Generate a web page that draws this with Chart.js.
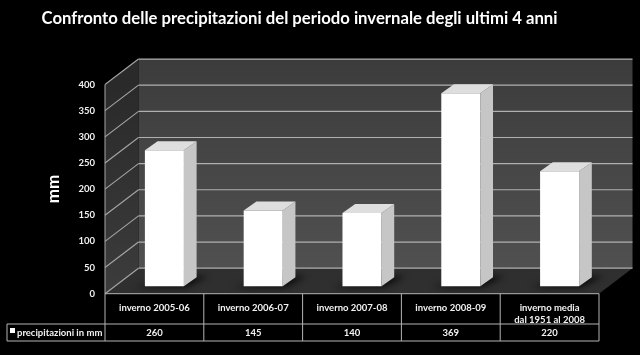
<!DOCTYPE html>
<html><head><meta charset="utf-8">
<style>html,body{margin:0;padding:0;background:#000}canvas{display:block}</style>
<script src="https://cdn.jsdelivr.net/npm/chart.js@4/dist/chart.umd.min.js"></script>
</head><body><canvas id="c" width="640" height="355"></canvas>
<script>
const categories = [["inverno 2005-06"],["inverno 2006-07"],["inverno 2007-08"],["inverno 2008-09"],["inverno media","dal 1951 al 2008"]];
const precipitazioni = [260,145,140,369,220];
const seriesName = "precipitazioni in mm";
const chartTitle = "Confronto delle precipitazioni del periodo invernale degli ultimi 4 anni";
const yTitle = "mm";
const FONT = "Lato, Carlito, 'Open Sans', sans-serif";
const depth = {wallX:33.5, wallY:-25.5, barX:10, barY:-7.5, sideX:12.7, sideY:-9};
const tableRows = {mid:324, bottom:341, legendLeft:7};

function poly(ctx, pts, fill){
  ctx.beginPath(); pts.forEach((p,i)=> i?ctx.lineTo(p[0],p[1]):ctx.moveTo(p[0],p[1])); ctx.closePath();
  ctx.fillStyle=fill; ctx.fill();
}
function line(ctx,x1,y1,x2,y2,col,w){
  ctx.beginPath(); ctx.moveTo(x1,y1); ctx.lineTo(x2,y2); ctx.strokeStyle=col; ctx.lineWidth=w||1; ctx.stroke();
}
const scene = {
  id:'scene',
  beforeDraw(chart){ const c=chart.ctx; c.save(); c.fillStyle='#000'; c.fillRect(0,0,chart.width,chart.height); c.restore(); },
  beforeDatasetsDraw(chart){
    const c=chart.ctx, a=chart.chartArea, y=chart.scales.y;
    const L=a.left,R=a.right,T=a.top,B=a.bottom,dx=depth.wallX,dy=depth.wallY;
    c.save();
    let g=c.createLinearGradient(0,T+dy,0,B+dy); g.addColorStop(0,'#3c3c3c'); g.addColorStop(1,'#505050');
    poly(c,[[L+dx,T+dy],[R+dx,T+dy],[R+dx,B+dy],[L+dx,B+dy]],g);
    g=c.createLinearGradient(0,T,0,B); g.addColorStop(0,'#2a2a2a'); g.addColorStop(1,'#3c3c3c');
    poly(c,[[L,T],[L+dx,T+dy],[L+dx,B+dy],[L,B]],g);
    poly(c,[[L,B],[L+dx,B+dy],[R+dx,B+dy],[R,B]],'#2f2f2f');
    y.ticks.forEach(t=>{
      const p=y.getPixelForValue(t.value);
      line(c,L+dx,p+dy,R+dx,p+dy,'#b0b0b0',1.2);
      line(c,L,p,L+dx,p+dy,'#a6a6a6',1.1);
    });
    line(c,L,T,L,B,'#a6a6a6',1);
    // soft floor shadows behind the bars
    const meta=chart.getDatasetMeta(0);
    c.filter='blur(3px)';
    meta.data.forEach(b=>{
      const l=b.x-b.width/2+depth.barX, r=b.x+b.width/2+depth.barX, bs=b.base+depth.barY;
      poly(c,[[l-10,bs+1],[r+2,bs+1],[r+24,bs-10],[r-2,bs-10]],'rgba(0,0,0,.75)');
    });
    c.filter='none';
    c.restore();
    c.save();
    c.translate(depth.barX,depth.barY);
  },
  afterDatasetsDraw(chart){
    const c=chart.ctx, meta=chart.getDatasetMeta(0);
    meta.data.forEach(b=>{
      const l=b.x-b.width/2, r=b.x+b.width/2, t=b.y, bs=b.base, sx=depth.sideX, sy=depth.sideY;
      poly(c,[[r,t],[r+sx,t+sy],[r+sx,bs+sy],[r,bs]],'#c6c6c6');
      poly(c,[[l,t],[l+sx,t+sy],[r+sx,t+sy],[r,t]],'#dedede');
    });
    c.restore();
  },
  afterDraw(chart){
    const c=chart.ctx,a=chart.chartArea,x=chart.scales.x;
    const col='#b4b4b4', B=a.bottom, mid=tableRows.mid, bot=tableRows.bottom, left=tableRows.legendLeft;
    const w=(a.right-a.left)/categories.length;
    c.save();
    line(c,a.left,B,a.right,B,col,1);
    line(c,left,mid,a.right,mid,col,1);
    line(c,left,bot,a.right,bot,col,1);
    line(c,left,mid,left,bot,col,1);
    for(let i=0;i<=categories.length;i++){ const px=a.left+i*w; line(c,px,B,px,bot,col,1); }
    c.fillStyle='#f2f2f2'; c.textBaseline='middle'; c.textAlign='center';
    c.font='bold 9.5px '+FONT;
    precipitazioni.forEach((v,i)=> c.fillText(String(v),x.getPixelForTick(i),(mid+bot)/2+0.5));
    c.textAlign='left';
    c.fillText(seriesName,17,(mid+bot)/2);
    c.fillStyle='#ffffff'; c.fillRect(10,328,5,5);
    c.restore();
  }
};
new Chart(document.getElementById('c'),{
  type:'bar',
  data:{labels:categories,datasets:[{label:seriesName,data:precipitazioni,backgroundColor:'#ffffff',borderWidth:0,barPercentage:0.395,categoryPercentage:1,clip:false}]},
  plugins:[scene],
  options:{
    responsive:false,animation:false,devicePixelRatio:1,
    layout:{padding:{left:0,right:41,top:0,bottom:0}},
    plugins:{
      legend:{display:false},tooltip:{enabled:false},
      title:{display:true,text:chartTitle,color:'#ffffff',align:'center',
        font:{family:FONT,size:16.7,weight:'bold',lineHeight:1.2},padding:{top:9,bottom:55.5}}
    },
    scales:{
      x:{grid:{display:false,drawTicks:false},border:{display:false},
        afterFit(s){s.height=61.3;},
        ticks:{color:'#f2f2f2',padding:8,autoSkip:false,maxRotation:0,minRotation:0,font:{family:FONT,size:9.5,weight:'bold',lineHeight:1.25}}},
      y:{min:0,max:400,grid:{display:false,drawTicks:false},border:{display:false},
        afterFit(s){s.width=105;},
        ticks:{stepSize:50,color:'#f2f2f2',padding:10,font:{family:FONT,size:9.5,weight:'bold'}},
        title:{display:true,text:yTitle,color:'#ffffff',font:{family:FONT,size:17,weight:'bold'},padding:{top:43,bottom:0}}}
    }
  }
});
</script></body></html>
